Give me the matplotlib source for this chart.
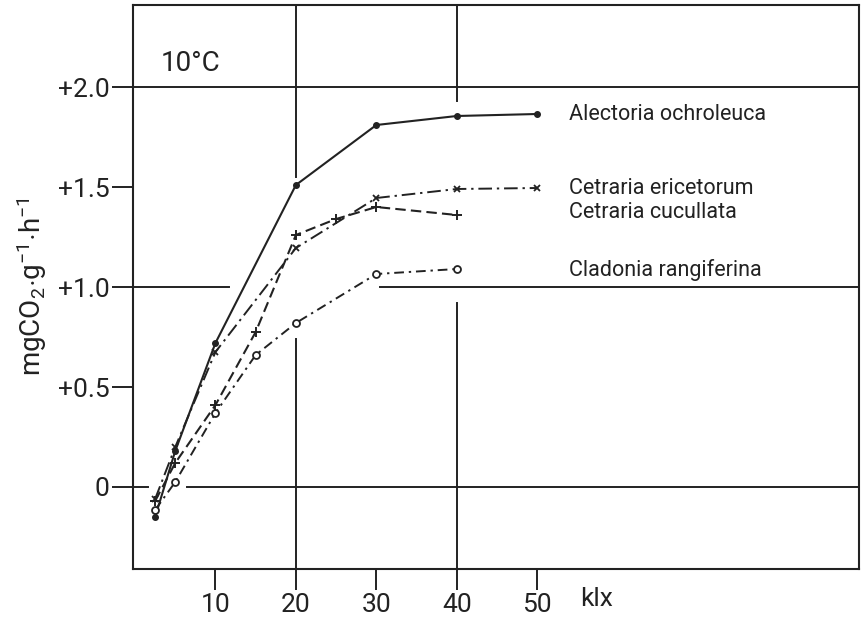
import matplotlib
matplotlib.use("Agg")
import matplotlib.pyplot as plt

plt.rcParams['font.family'] = ['Roboto', 'DejaVu Sans']
plt.rcParams['mathtext.fontset'] = 'custom'
plt.rcParams['mathtext.rm'] = 'Roboto'
plt.rcParams['mathtext.it'] = 'Roboto'

# Data
alectoria_x = [2.5, 5, 10, 20, 30, 40, 50]
alectoria_y = [-0.15, 0.18, 0.72, 1.51, 1.81, 1.855, 1.865]
ericetorum_x = [2.5, 5, 10, 20, 30, 40, 50]
ericetorum_y = [-0.06, 0.20, 0.675, 1.195, 1.445, 1.49, 1.495]
cucullata_x = [2.5, 5, 10, 15, 20, 25, 30, 40]
cucullata_y = [-0.07, 0.12, 0.41, 0.775, 1.26, 1.34, 1.40, 1.36]
cladonia_x = [2.5, 5, 10, 15, 20, 30, 40]
cladonia_y = [-0.115, 0.025, 0.37, 0.66, 0.82, 1.065, 1.09]
species = ["Alectoria ochroleuca", "Cetraria ericetorum", "Cetraria cucullata", "Cladonia rangiferina"]
label_y = [1.865, 1.495, 1.37, 1.085]
xticks = [10, 20, 30, 40, 50]
yticks = [0, 0.5, 1.0, 1.5, 2.0]
yticklabels = ["0", "+0.5", "+1.0", "+1.5", "+2.0"]

fig = plt.figure(figsize=(8.64, 6.17), dpi=100)
ax = fig.add_axes([133/864, 48/617, 726/864, 564/617])
ax.set_xlim(-0.25, 90)
ax.set_ylim(-0.41, 2.41)

lc = '#222222'
lw = 1.4
# grid segments
ax.plot([-0.25, 90], [2.0, 2.0], color=lc, lw=lw)
ax.plot([-0.25, 11.7], [1.0, 1.0], color=lc, lw=lw)
ax.plot([30.5, 90], [1.0, 1.0], color=lc, lw=lw)
ax.plot([-0.25, 1.6], [0, 0], color=lc, lw=lw)
ax.plot([6.5, 90], [0, 0], color=lc, lw=lw)
ax.plot([20, 20], [1.55, 2.41], color=lc, lw=lw)
ax.plot([20, 20], [-0.41, 0.74], color=lc, lw=lw)
ax.plot([40, 40], [1.93, 2.41], color=lc, lw=lw)
ax.plot([40, 40], [-0.41, 0.92], color=lc, lw=lw)

ax.plot(alectoria_x, alectoria_y, color=lc, lw=1.5, marker='o', ms=4)
ax.plot(ericetorum_x, ericetorum_y, color=lc, lw=1.4, ls=(0, (7, 2.5, 1.2, 2.5)), marker='x', ms=5, mew=1.3)
ax.plot(cucullata_x, cucullata_y, color=lc, lw=1.5, ls=(0, (5, 2.5)), marker='+', ms=7, mew=1.4)
ax.plot(cladonia_x, cladonia_y, color=lc, lw=1.4, ls=(0, (5, 2.5, 1.2, 2.5)), marker='o', ms=5, mfc='white', mew=1.3)

for s, yv in zip(species, label_y):
    ax.text(54, yv, s, fontsize=15.5, va='center', ha='left', color=lc)

ax.text(3.2, 2.12, "10°C", fontsize=20, va='center', ha='left', color=lc)

ax.set_xticks(xticks)
ax.set_xticklabels([str(v) for v in xticks], fontsize=19)
ax.set_yticks(yticks)
ax.set_yticklabels(yticklabels, fontsize=19)
ax.tick_params(direction='out', length=15, width=1.4, colors=lc, pad=2)
ax.text(55.3, -0.50, "klx", fontsize=19, ha='left', va='top', color=lc)

for sp in ax.spines.values():
    sp.set_linewidth(1.5)
    sp.set_color(lc)

ax.set_ylabel(r"mgCO$_2$$\cdot$g$^{-1}$$\cdot$h$^{-1}$", fontsize=20, color=lc, labelpad=6)

fig.savefig("out.png", dpi=100)
